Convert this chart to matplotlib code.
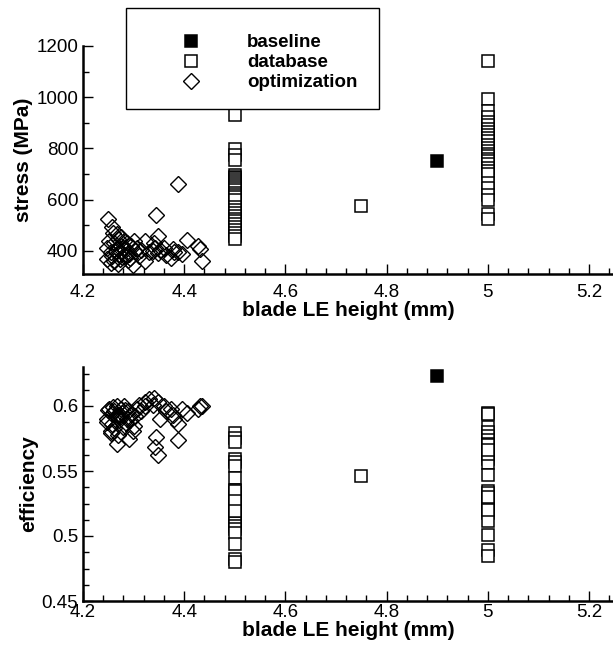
import matplotlib.pyplot as plt
from matplotlib.patches import Rectangle
from matplotlib.ticker import MultipleLocator

plt.rcParams["font.family"] = ["Liberation Sans", "DejaVu Sans"]

# baseline design
base_height = [4.9]
base_stress = [750]
base_eff = [0.623]

# database designs
db_height = [4.5] * 29 + [4.75] + [5.0] * 28
db_stress = [929, 797, 776, 755, 697, 690, 683, 676, 668, 660, 652, 645, 637, 628, 620,
             610, 600, 571, 560, 548, 535, 525, 515, 505, 495, 482, 470, 458, 445,
             575,
             1141, 995, 947, 921, 905, 890, 877, 865, 852, 840, 828, 815, 803, 792,
             780, 770, 760, 750, 738, 725, 712, 700, 666, 644, 618, 598, 545, 525]
db_eff = [0.5795, 0.5756, 0.572, 0.5595, 0.557, 0.554, 0.545, 0.5356, 0.533, 0.530,
          0.528, 0.526, 0.524, 0.522, 0.520, 0.518, 0.516, 0.514, 0.512, 0.510, 0.508,
          0.5055, 0.502, 0.494, 0.482, 0.480, 0.535, 0.527, 0.519,
          0.546,
          0.595, 0.594, 0.584, 0.580, 0.577, 0.574, 0.571, 0.568, 0.565, 0.562, 0.559,
          0.556, 0.547, 0.535, 0.533, 0.528, 0.525, 0.522, 0.518, 0.5116, 0.5005, 0.489,
          0.485, 0.570, 0.563, 0.530, 0.520, 0.566]

# optimization designs
opt_height = [4.250, 4.258, 4.252, 4.248, 4.248, 4.256, 4.268, 4.262, 4.270, 4.275,
              4.265, 4.272, 4.258, 4.278, 4.283, 4.262, 4.270, 4.279, 4.286, 4.291,
              4.299, 4.295, 4.288, 4.267, 4.255, 4.282, 4.276, 4.260, 4.285, 4.273,
              4.307, 4.302, 4.310, 4.322, 4.322, 4.315, 4.330, 4.345, 4.349, 4.342,
              4.349, 4.353, 4.361, 4.373, 4.377, 4.388, 4.388, 4.396, 4.406, 4.427,
              4.431, 4.435, 4.338, 4.365, 4.380, 4.340, 4.300, 4.293]
opt_stress = [525, 492, 440, 413, 367, 354, 465, 430, 445, 420,
              400, 390, 380, 375, 402, 360, 350, 413, 430, 387,
              347, 420, 365, 410, 395, 440, 455, 470, 385, 370,
              413, 398, 380, 440, 360, 405, 395, 539, 460, 413,
              393, 405, 413, 374, 407, 660, 394, 387, 443, 420,
              407, 360, 400, 385, 395, 430, 440, 372]
opt_eff = [0.597, 0.594, 0.598, 0.590, 0.588, 0.581, 0.600, 0.596, 0.593, 0.598,
           0.592, 0.589, 0.586, 0.595, 0.597, 0.583, 0.578, 0.584, 0.590, 0.575,
           0.581, 0.594, 0.596, 0.571, 0.579, 0.600, 0.592, 0.599, 0.587, 0.593,
           0.598, 0.592, 0.601, 0.603, 0.600, 0.596, 0.6056, 0.576, 0.603, 0.5685,
           0.562, 0.590, 0.600, 0.598, 0.593, 0.574, 0.586, 0.598, 0.595, 0.598,
           0.5997, 0.600, 0.601, 0.596, 0.590, 0.606, 0.585, 0.589]

W, H = 613, 647
fig = plt.figure(figsize=(W / 100, H / 100), dpi=100)
ax1 = fig.add_axes([83 / W, 1 - 274 / H, 1 - 83 / W, (274 - 46) / H])
ax2 = fig.add_axes([83 / W, 1 - 601 / H, 1 - 83 / W, (601 - 367) / H])

sq = dict(marker="s", ms=8.5, mfc="white", mec="black", mew=1.1, ls="none")
dm = dict(marker="D", ms=8.5, mfc="none", mec="black", mew=1.0, ls="none")
bs = dict(marker="s", ms=8.5, mfc="black", mec="black", mew=1.1, ls="none")

for ax, yb, yd, yo in [(ax1, base_stress, db_stress, opt_stress),
                       (ax2, base_eff, db_eff, opt_eff)]:
    ax.plot(opt_height, yo, **dm, label="optimization")
    ax.plot(db_height, yd, **sq, label="database")
    ax.plot(base_height, yb, **bs, label="baseline")
    ax.set_xlim(4.2, 4.2 + (W - 83) / 506)
    ax.xaxis.set_minor_locator(MultipleLocator(0.04))
    ax.set_xticks([4.2, 4.4, 4.6, 4.8, 5.0, 5.2])
    ax.set_xticklabels(["4.2", "4.4", "4.6", "4.8", "5", "5.2"])
    for s in ["top", "right"]:
        ax.spines[s].set_visible(False)
    for s in ["left", "bottom"]:
        ax.spines[s].set_linewidth(1.8)
    ax.tick_params(which="both", direction="in", labelsize=13.5, width=1.0)
    ax.tick_params(which="major", length=7)
    ax.tick_params(which="minor", length=4.5)
    ax.set_xlabel("blade LE height (mm)", fontsize=15, fontweight="bold", labelpad=0)

ax1.set_ylim(310, 1200)
ax1.set_yticks([400, 600, 800, 1000, 1200])
ax1.yaxis.set_minor_locator(MultipleLocator(100))
ax1.set_ylabel("stress (MPa)", fontsize=15, fontweight="bold", labelpad=2)
ax1.tick_params(axis="x", pad=7)

ax2.set_ylim(0.45, 0.63)
ax2.set_yticks([0.45, 0.5, 0.55, 0.6])
ax2.set_yticklabels(["0.45", "0.5", "0.55", "0.6"])
ax2.yaxis.set_minor_locator(MultipleLocator(0.0125))
ax2.set_ylabel("efficiency", fontsize=15, fontweight="bold", labelpad=2)
ax2.tick_params(axis="x", pad=2)

# legend box
fig.patches.append(Rectangle((126 / W, 1 - 109 / H), (379 - 126) / W, (109 - 8) / H,
                             transform=fig.transFigure, fill=True, fc="white",
                             ec="black", lw=1.0, zorder=5))
h, l = ax1.get_legend_handles_labels()
leg = fig.legend(h[::-1], l[::-1], loc="upper left",
                 bbox_to_anchor=(172 / W, 1 - 34 / H), frameon=False,
                 prop=dict(size=13.5, weight="bold"), borderpad=0, borderaxespad=0,
                 handlelength=2, handletextpad=2.0, labelspacing=0.16)
leg.set_zorder(6)

fig.savefig("out.png", dpi=100)
